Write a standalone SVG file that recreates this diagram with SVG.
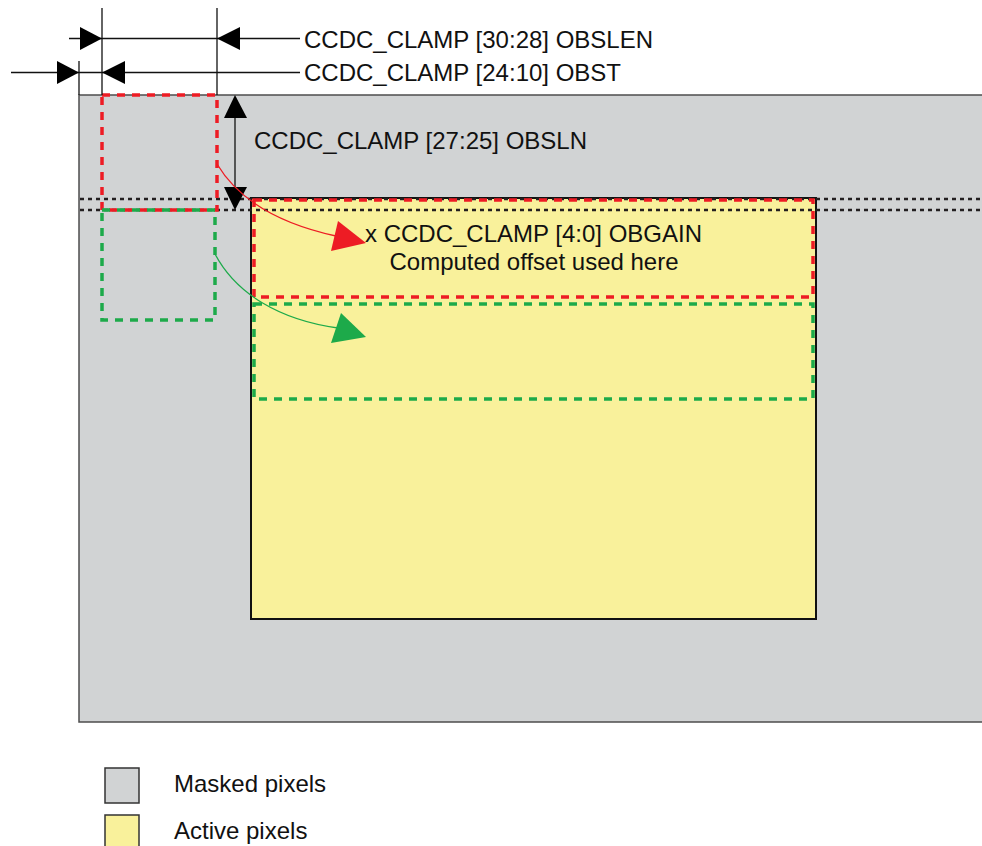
<svg xmlns="http://www.w3.org/2000/svg" width="982" height="846" viewBox="0 0 982 846">
<style>
text{font-family:"Liberation Sans",Arial,sans-serif;font-size:24px;fill:#111}
.dim{stroke:#111;stroke-width:1.3;fill:none}
.ah{fill:#000}
.rd{fill:none;stroke:#ED1C24;stroke-width:3.5;stroke-dasharray:8 7}
.gd{fill:none;stroke:#1DAA4A;stroke-width:3.5;stroke-dasharray:8 7}
.dot{stroke:#231F20;stroke-width:2.5;stroke-dasharray:4 4;fill:none}
</style>
<g id="masked-area"><rect x="79" y="95" width="910" height="627" fill="#D1D3D4" stroke="#4D4D4D" stroke-width="1.5"/></g>
<g id="active-area"><rect x="251" y="198" width="565" height="421" fill="#F9F19B" stroke="#111" stroke-width="2"/></g>
<g id="reference-lines">
<line class="dot" x1="80" y1="199" x2="982" y2="199"/>
<line class="dot" x1="80" y1="210" x2="982" y2="210"/>
</g>
<g id="obs-window-red"><rect class="rd" x="102" y="95" width="115" height="115"/></g>
<g id="obs-window-green"><rect class="gd" x="102" y="210" width="113" height="110"/></g>
<g id="apply-red"><rect class="rd" x="254" y="200" width="559" height="97"/></g>
<g id="apply-green"><rect class="gd" x="254" y="304" width="559" height="95"/></g>
<g id="connectors">
<line class="dim" x1="102" y1="8" x2="102" y2="95"/>
<line class="dim" x1="217" y1="8" x2="217" y2="95"/>
<line class="dim" x1="79" y1="61" x2="79" y2="95"/>
<line class="dim" x1="69" y1="38.5" x2="300" y2="38.5"/>
<polygon class="ah" points="102,38.5 80,27 80,50"/>
<polygon class="ah" points="217,38.5 240,27 240,50"/>
<line class="dim" x1="11" y1="72.5" x2="300" y2="72.5"/>
<polygon class="ah" points="79,72.5 57,61 57,84"/>
<polygon class="ah" points="102,72.5 125,61 125,84"/>
<line class="dim" x1="235" y1="110" x2="235" y2="195"/>
<polygon class="ah" points="235,95 224,118 247,118"/>
<polygon class="ah" points="235,210 224,187 247,187"/>
<path d="M217,164 C236,196 272,222 336,236" fill="none" stroke="#ED1C24" stroke-width="1.3"/>
<polygon points="366,243 338,221 331,251" fill="#ED1C24"/>
<path d="M215,254 C236,294 280,320 338,328" fill="none" stroke="#1DAA4A" stroke-width="1.3"/>
<polygon points="366,337 341,313 331,343" fill="#1DAA4A"/>
</g>
<g id="labels">
<text x="304" y="48">CCDC_CLAMP [30:28] OBSLEN</text>
<text x="304" y="81">CCDC_CLAMP [24:10] OBST</text>
<text x="254" y="149">CCDC_CLAMP [27:25] OBSLN</text>
<text x="365" y="242">x CCDC_CLAMP [4:0] OBGAIN</text>
<text x="534" y="270" text-anchor="middle">Computed offset used here</text>
</g>
<g id="legend">
<rect x="105" y="768" width="34" height="35" fill="#D1D3D4" stroke="#333" stroke-width="1.5"/>
<text x="174" y="792">Masked pixels</text>
<rect x="105" y="815" width="34" height="35" fill="#F9F19B" stroke="#333" stroke-width="1.5"/>
<text x="174" y="839">Active pixels</text>
</g>
</svg>
